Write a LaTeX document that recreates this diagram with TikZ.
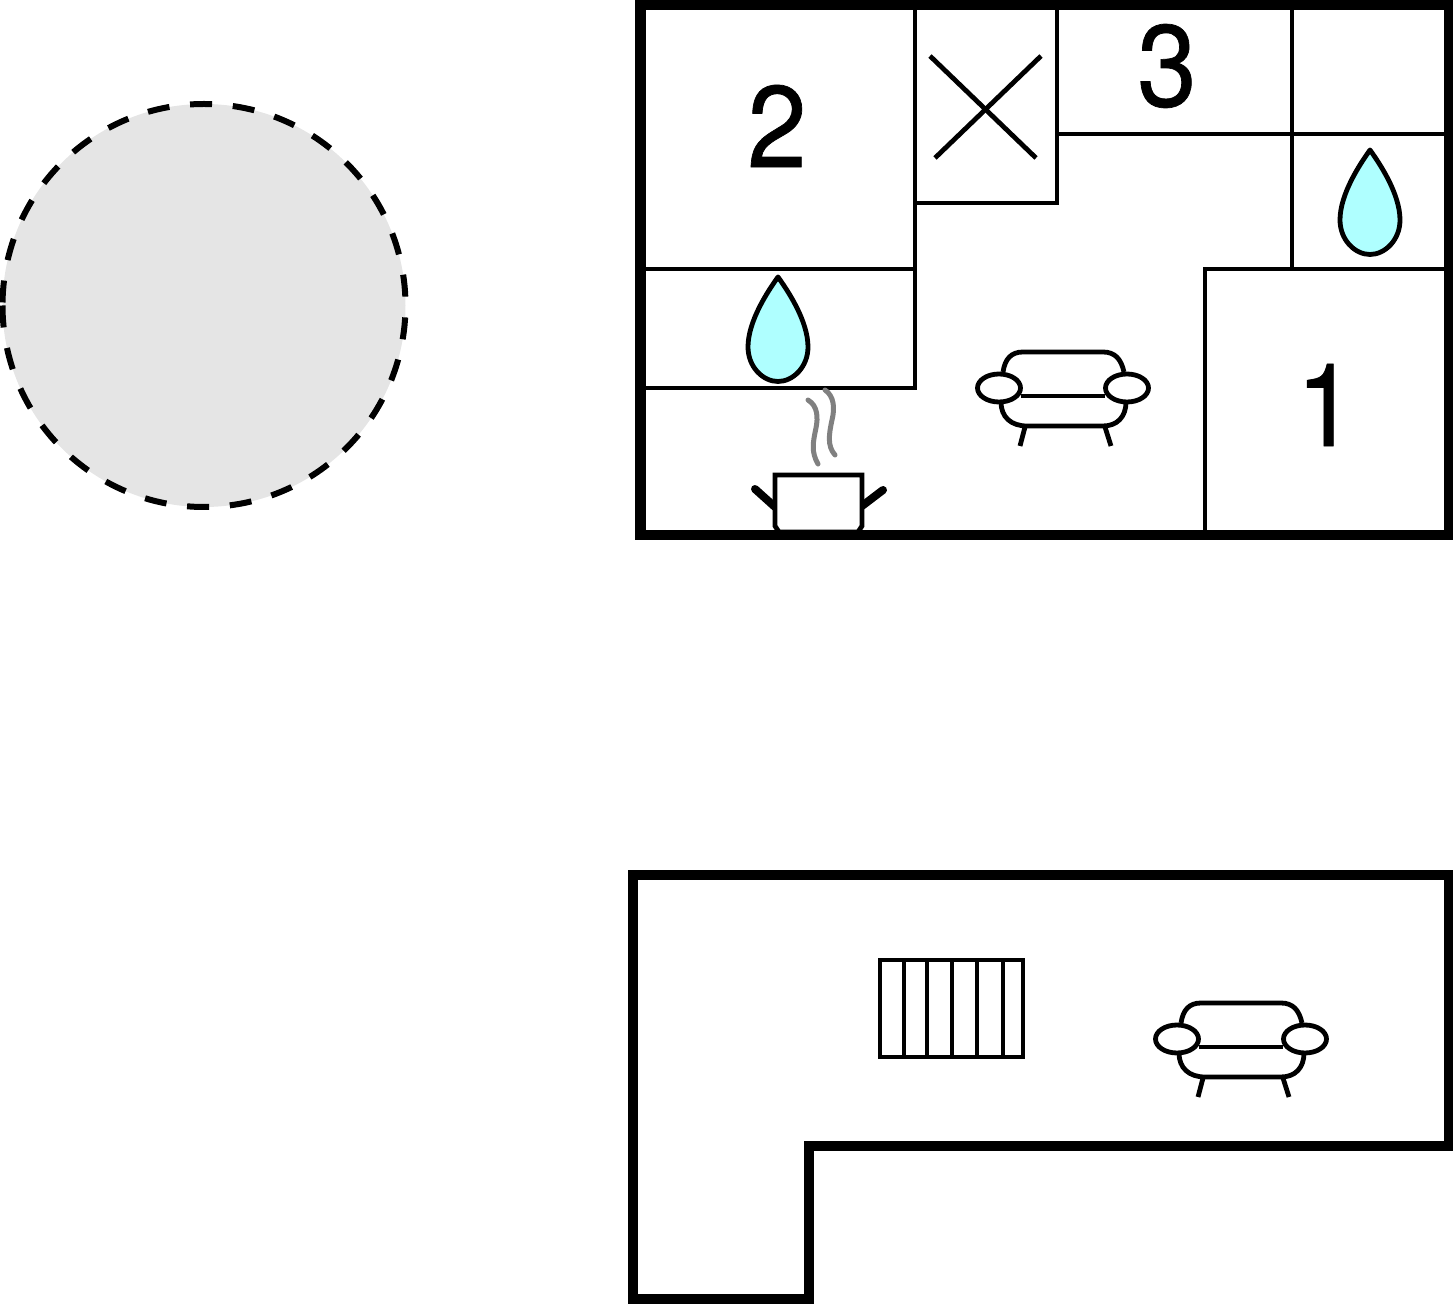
\documentclass[tikz,border=0pt]{standalone}
\usepackage{fontspec}
\setmainfont{TeX Gyre Heros}[FakeStretch=0.92,FakeBold=0.6]
\definecolor{dropblue}{HTML}{AFFFFF}
\definecolor{poolgray}{HTML}{E5E5E5}
\tikzset{
  sofa/.pic={
    \draw[thinwall] (-60,-16) .. controls (-58,-29) and (-52,-36) .. (-40,-36) -- (40,-36)
      .. controls (52,-36) and (58,-29) .. (61,-16);
    \draw[thinwall] (-62,14) .. controls (-62,29) and (-52,38) .. (-36,38) -- (40,38)
      .. controls (54,38) and (63,29) .. (63,14);
    \draw[thinwall] (-42,8) -- (42,8);
    \draw[thinwall] (-38,39) -- (-43,58);
    \draw[thinwall] (42,39) -- (48,58);
    \draw[thinwall,fill=white] (-64,0) ellipse (21.5 and 14);
    \draw[thinwall,fill=white] (64,0) ellipse (21.5 and 14);
  },
  waterdrop/.pic={
    \draw[thinwall,fill=dropblue,line join=round] (0,-52) .. controls (-10,-38) and (-30,-8) .. (-30,18)
      .. controls (-30,38) and (-15,52.5) .. (0,52.5) .. controls (15,52.5) and (30,38) .. (30,18)
      .. controls (30,-8) and (10,-38) .. (0,-52) -- cycle;
  }
}

\begin{document}
\begin{tikzpicture}[x=0.5pt,y=-0.5pt]
  \tikzstyle{outerwall}=[draw=black,line width=5.25pt,miter limit=10]
  \tikzstyle{thinwall}=[draw=black,line width=2.4pt]
  \tikzstyle{steam}=[draw=black!50,line width=2.5pt,line cap=round]
  \tikzstyle{number}=[inner sep=0pt,font=\fontsize{58pt}{58pt}\selectfont]

  \useasboundingbox (0,0) rectangle (1453,1304);

  % pool
  \draw[fill=poolgray,draw=none] (204,305.5) circle (201.5);
  \draw[line width=3pt,dash pattern=on 11pt off 10.4pt] (2.5,305.5) arc (180:-180:201.5);

  % upper floor, inner walls
  \draw[thinwall] (915,5) -- (915,388) -- (640,388);
  \draw[thinwall] (640,269) -- (915,269);
  \draw[thinwall] (915,203) -- (1057,203) -- (1057,5);
  \draw[thinwall] (1057,134) -- (1449,134);
  \draw[thinwall] (1292,5) -- (1292,269);
  \draw[thinwall] (1449,269) -- (1205,269) -- (1205,535);

  % bath fixtures
  \pic at (778,329) {waterdrop};
  \pic at (1370,202) {waterdrop};
  \draw[thinwall] (930,56) -- (1036,158);
  \draw[thinwall] (1041,56) -- (935,158);

  % cooker
  \draw[line width=4pt,line cap=round] (755,489) -- (775,507);
  \draw[line width=4pt,line cap=round] (883,490) -- (862,506);
  \draw[thinwall,fill=white] (775,475) -- (862,475) -- (862,526) -- (858,532) -- (779,532) -- (775,526) -- cycle;
  \draw[steam] (808,400) .. controls (818,406) and (818,418) .. (816,428)
    .. controls (813,442) and (811,452) .. (818,464);
  \draw[steam] (825,390) .. controls (834,396) and (835,408) .. (832,420)
    .. controls (829,434) and (827,446) .. (835,455);

  \pic at (1063,388) {sofa};

  \draw[outerwall] (640.5,5) rectangle (1449,535);

  \node[number] (room2) at (777,126) {2};
  \node[number] (room3) at (1167,66) {3};
  \node[number] (room1) at (1326,405) {1};

  % lower floor
  \draw[outerwall] (633,875) -- (1449,875) -- (1449,1146) -- (809,1146) -- (809,1299) -- (633,1299) -- cycle;

  % stairs
  \draw[thinwall] (880,960) rectangle (1023,1057);
  \foreach \stairx in {904,927,952,977,1003}
    \draw[thinwall] (\stairx,960) -- (\stairx,1057);

  \pic at (1241,1039) {sofa};
\end{tikzpicture}
\end{document}
